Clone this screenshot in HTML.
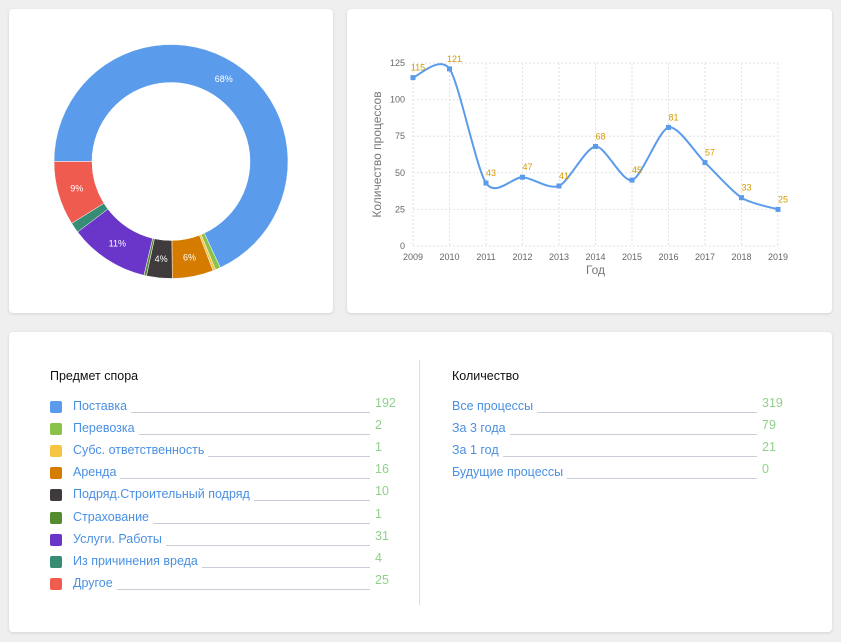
<!DOCTYPE html>
<html><head><meta charset="utf-8">
<style>
body{margin:0;width:841px;height:642px;background:#efefef;font-family:"Liberation Sans",sans-serif;position:relative;overflow:hidden}
.card{position:absolute;background:#fff;border-radius:4px;box-shadow:0 1px 3px rgba(0,0,0,0.12)}
.row{position:absolute;height:20px;font-size:12.5px;color:#4a90e2}
.sq{position:absolute;top:2px;width:12px;height:12px;border-radius:2px}
.lbl{position:absolute;top:0;white-space:nowrap;background:#fff;padding-right:4px}
.ln{position:absolute;top:13px;height:1px;background:#c8cdd8}
.val{position:absolute;top:-3px;color:#8fd18a;font-size:12.5px}
.hdr{position:absolute;font-size:12.5px;color:#111}
</style></head><body>
<div class="card" style="left:9px;top:9px;width:324px;height:304px">
<svg id="donut" width="324" height="304"></svg>
</div>
<div class="card" style="left:347px;top:9px;width:485px;height:304px">
<svg id="line" width="485" height="304"></svg>
</div>
<div class="card" style="left:9px;top:332px;width:823px;height:300px">
<div class="hdr" style="left:41px;top:37px">Предмет спора</div>
<div class="hdr" style="left:443px;top:37px">Количество</div>
<div style="position:absolute;left:410px;top:28px;width:1px;height:245px;background:#ddd"></div>
<div id="rows"></div>
</div>
<script>
const cats=["Поставка","Перевозка","Субс. ответственность","Аренда","Подряд.Строительный подряд","Страхование","Услуги. Работы","Из причинения вреда","Другое"];
const vals=[192,2,1,16,10,1,31,4,25];
const colors=["#5b9bec","#8bc34a","#f5c542","#d47b00","#3f3a3c","#558b2f","#6a35c9","#378d73","#ef5b4f"];
const qcats=["Все процессы","За 3 года","За 1 год","Будущие процессы"];
const qvals=[319,79,21,0];
const years=[2009,2010,2011,2012,2013,2014,2015,2016,2017,2018,2019];
const counts=[115,121,43,47,41,68,45,81,57,33,25];
const yticks=[0,25,50,75,100,125];
const NS="http://www.w3.org/2000/svg";
function mk(p,t,a){const e=document.createElementNS(NS,t);for(const k in a)e.setAttribute(k,a[k]);p.appendChild(e);return e;}
(function(){
const svg=document.getElementById('donut');const cx=162,cy=152.5,R=117,r=79;
const tot=vals.reduce((a,b)=>a+b,0);let a=Math.PI;
vals.forEach((v,i)=>{const a2=a+v/tot*2*Math.PI;const big=(a2-a)>Math.PI?1:0;
const p=(ang,rr)=>[cx+rr*Math.cos(ang),cy+rr*Math.sin(ang)];
const [x1,y1]=p(a,R),[x2,y2]=p(a2,R),[x3,y3]=p(a2,r),[x4,y4]=p(a,r);
const s=mk(svg,'path',{d:`M${x1},${y1}A${R},${R} 0 ${big} 1 ${x2},${y2}L${x3},${y3}A${r},${r} 0 ${big} 0 ${x4},${y4}Z`,fill:colors[i],stroke:'#fff','stroke-width':0.5});


const pct=Math.round(v/tot*100);
if(pct>=4){const m=(a+a2)/2;const [tx,ty]=p(m,(R+r)/2);
const t=mk(svg,'text',{x:tx,y:ty+3,'text-anchor':'middle','font-size':9,fill:'#fff'});t.textContent=pct+'%';

}
a=a2;});
})();
(function(){
const svg=document.getElementById('line');const L=66,Rt=431,T=54,B=237;
const X=i=>L+(Rt-L)*i/(years.length-1);const Y=v=>B-(B-T)*v/125;
yticks.forEach(v=>{mk(svg,'line',{x1:L,x2:Rt,y1:Y(v),y2:Y(v),stroke:'#e2e2e2','stroke-dasharray':'2,2'});
const t=mk(svg,'text',{x:L-8,y:Y(v)+3,'text-anchor':'end','font-size':9,fill:'#666'});t.textContent=v;

});
years.forEach((y,i)=>{mk(svg,'line',{x1:X(i),x2:X(i),y1:T,y2:B,stroke:'#e2e2e2','stroke-dasharray':'2,2'});
const t=mk(svg,'text',{x:X(i),y:B+14,'text-anchor':'middle','font-size':9,fill:'#666'});t.textContent=y;

});
const pts=counts.map((v,i)=>[X(i),Y(v)]);
let d=`M${pts[0][0]},${pts[0][1]}`;const k=7.5;
for(let i=0;i<pts.length-1;i++){const p0=pts[i-1]||pts[i],p1=pts[i],p2=pts[i+1],p3=pts[i+2]||p2;
d+=`C${p1[0]+(p2[0]-p0[0])/k},${p1[1]+(p2[1]-p0[1])/k} ${p2[0]-(p3[0]-p1[0])/k},${p2[1]-(p3[1]-p1[1])/k} ${p2[0]},${p2[1]}`;}
const path=mk(svg,'path',{d:d,fill:'none',stroke:'#5b9bec','stroke-width':2});


pts.forEach((p,i)=>{const m=mk(svg,'rect',{x:p[0]-2.5,y:p[1]-2.5,width:5,height:5,fill:'#5b9bec'});


const t=mk(svg,'text',{x:p[0]+5,y:p[1]-7,'text-anchor':'middle','font-size':9,fill:'#d49a00'});t.textContent=counts[i];

});
const xt=mk(svg,'text',{x:(L+Rt)/2,y:B+28,'text-anchor':'middle','font-size':12,fill:'#777'});xt.textContent='Год';


const yt=mk(svg,'text',{x:0,y:0,'text-anchor':'middle','font-size':12,fill:'#777',transform:`translate(34,${(T+B)/2}) rotate(-90)`});yt.textContent='Количество процессов';


})();
(function(){
const box=document.getElementById('rows');
function row(x,y,txt,val,lineEnd,col){const r=document.createElement('div');r.className='row';r.style.left=x+'px';r.style.top=y+'px';


let off=0;
if(col){const s=document.createElement('div');s.className='sq';s.style.background=col;s.style.left='0px';r.appendChild(s);off=23;}
const ln=document.createElement('div');ln.className='ln';ln.style.left=off+'px';ln.style.width=(lineEnd-off)+'px';r.appendChild(ln);
const l=document.createElement('div');l.className='lbl';l.style.left=off+'px';l.textContent=txt;r.appendChild(l);
const v=document.createElement('div');v.className='val';v.style.left=(lineEnd+5)+'px';v.textContent=val;r.appendChild(v);
box.appendChild(r);}
cats.forEach((c,i)=>row(41,67+i*22.1,c,vals[i],320,colors[i]));
qcats.forEach((c,i)=>row(443,67+i*22.1,c,qvals[i],305,null));
})();
</script>
</body></html>
